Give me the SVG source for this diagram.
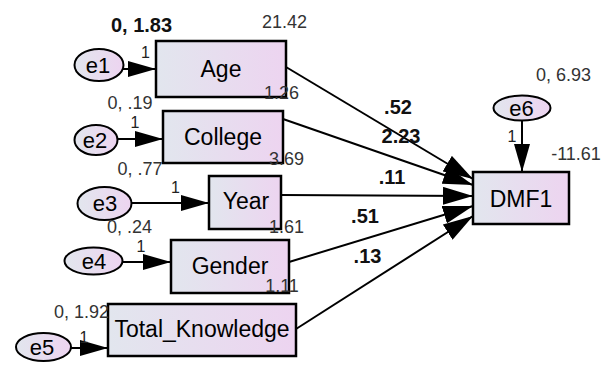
<svg xmlns="http://www.w3.org/2000/svg" width="603" height="367" viewBox="0 0 603 367">
<defs>
<linearGradient id="g" x1="0" y1="0" x2="1" y2="0">
<stop offset="0" stop-color="#e2e6ee"/>
<stop offset="1" stop-color="#edd4f0"/>
</linearGradient>
<marker id="ah" viewBox="0 0 30 18" refX="30" refY="9" markerWidth="30" markerHeight="18" markerUnits="userSpaceOnUse" orient="auto">
<path d="M0,0 L30,9 L0,18 Z" fill="#000"/>
</marker>
<marker id="as" viewBox="0 0 28 16" refX="28" refY="8" markerWidth="28" markerHeight="16" markerUnits="userSpaceOnUse" orient="auto">
<path d="M0,0 L28,8 L0,16 Z" fill="#000"/>
</marker>
</defs>
<style>
.box{fill:url(#g);stroke:#000;stroke-width:2.5}
.ell{fill:url(#g);stroke:#000;stroke-width:2}
.nt{font-family:"Liberation Sans",Arial,sans-serif;font-size:23px;fill:#000;text-anchor:middle}
.et{font-family:"Liberation Sans",Arial,sans-serif;font-size:22px;fill:#000;text-anchor:middle}
.lb{font-family:"Liberation Sans",Arial,sans-serif;font-size:18px;fill:#333;text-anchor:middle}
.one{font-family:"Liberation Sans",Arial,sans-serif;font-size:16px;fill:#222;text-anchor:middle}
.bl{font-family:"Liberation Sans",Arial,sans-serif;font-size:20px;font-weight:bold;fill:#111;text-anchor:middle}
.ln{stroke:#000;stroke-width:2;fill:none}
</style>
<g id="connectors">
<path class="ln" d="M122,69 L156,69" marker-end="url(#as)"/>
<path class="ln" d="M117.5,139 L163,139" marker-end="url(#as)"/>
<path class="ln" d="M131.5,203 L209,203" marker-end="url(#as)"/>
<path class="ln" d="M122.5,262 L171,262" marker-end="url(#as)"/>
<path class="ln" d="M71,348 L108,348" marker-end="url(#as)"/>
<path class="ln" d="M522,120.5 L522,172" marker-end="url(#as)"/>
<path class="ln" d="M286,67 L473,179" marker-end="url(#ah)"/>
<path class="ln" d="M283,119 L473,185" marker-end="url(#ah)"/>
<path class="ln" d="M281,195 L473,196" marker-end="url(#ah)"/>
<path class="ln" d="M289,262 L473,206" marker-end="url(#ah)"/>
<path class="ln" d="M296,329 L473,216" marker-end="url(#ah)"/>
</g>
<g id="Age"><rect class="box" x="156" y="41" width="130" height="56"/><text class="nt" x="221" y="77">Age</text></g>
<g id="College"><rect class="box" x="163" y="111" width="120" height="52"/><text class="nt" x="223" y="145">College</text></g>
<g id="Year"><rect class="box" x="209" y="176" width="72" height="53"/><text class="nt" x="246" y="209">Year</text></g>
<g id="Gender"><rect class="box" x="171" y="240" width="118" height="53"/><text class="nt" x="230" y="274">Gender</text></g>
<g id="Total_Knowledge"><rect class="box" x="108" y="304" width="188" height="52"/><text class="nt" x="202" y="337">Total_Knowledge</text></g>
<g id="DMF1"><rect class="box" x="473" y="172" width="96" height="52"/><text class="nt" x="521" y="207">DMF1</text></g>
<g id="e1"><ellipse class="ell" cx="99" cy="65" rx="24.5" ry="16"/><text class="et" x="98" y="73">e1</text></g>
<g id="e2"><ellipse class="ell" cx="96" cy="140" rx="21.5" ry="15"/><text class="et" x="95" y="148">e2</text></g>
<g id="e3"><ellipse class="ell" cx="104.5" cy="203.5" rx="27" ry="16.5"/><text class="et" x="105" y="211">e3</text></g>
<g id="e4"><ellipse class="ell" cx="93.5" cy="261" rx="29" ry="13.5"/><text class="et" x="94" y="269">e4</text></g>
<g id="e5"><ellipse class="ell" cx="43.5" cy="347" rx="27.5" ry="14"/><text class="et" x="42" y="355">e5</text></g>
<g id="e6"><ellipse class="ell" cx="522" cy="108" rx="28.5" ry="12.5"/><text class="et" x="521.5" y="116">e6</text></g>
<g id="labels">
<text class="bl" x="141.5" y="32">0, 1.83</text>
<text class="lb" x="284.5" y="28">21.42</text>
<text class="one" x="145.5" y="58">1</text>
<text class="lb" x="281.5" y="99">1.26</text>
<text class="lb" x="130" y="109">0, .19</text>
<text class="one" x="135" y="128">1</text>
<text class="lb" x="286.5" y="165">3.69</text>
<text class="lb" x="140" y="175">0, .77</text>
<text class="one" x="175.5" y="193">1</text>
<text class="lb" x="286.5" y="233">1.61</text>
<text class="lb" x="129.5" y="233">0, .24</text>
<text class="one" x="141" y="252">1</text>
<text class="lb" x="282" y="292">1.11</text>
<text class="lb" x="81.5" y="318">0, 1.92</text>
<text class="one" x="84" y="343">1</text>
<text class="lb" x="563.5" y="81">0, 6.93</text>
<text class="lb" x="576" y="160">-11.61</text>
<text class="one" x="512" y="142">1</text>
<text class="bl" x="398" y="114">.52</text>
<text class="bl" x="401" y="143">2.23</text>
<text class="bl" x="392" y="184">.11</text>
<text class="bl" x="365" y="223">.51</text>
<text class="bl" x="367.5" y="263">.13</text>
</g>
</svg>
